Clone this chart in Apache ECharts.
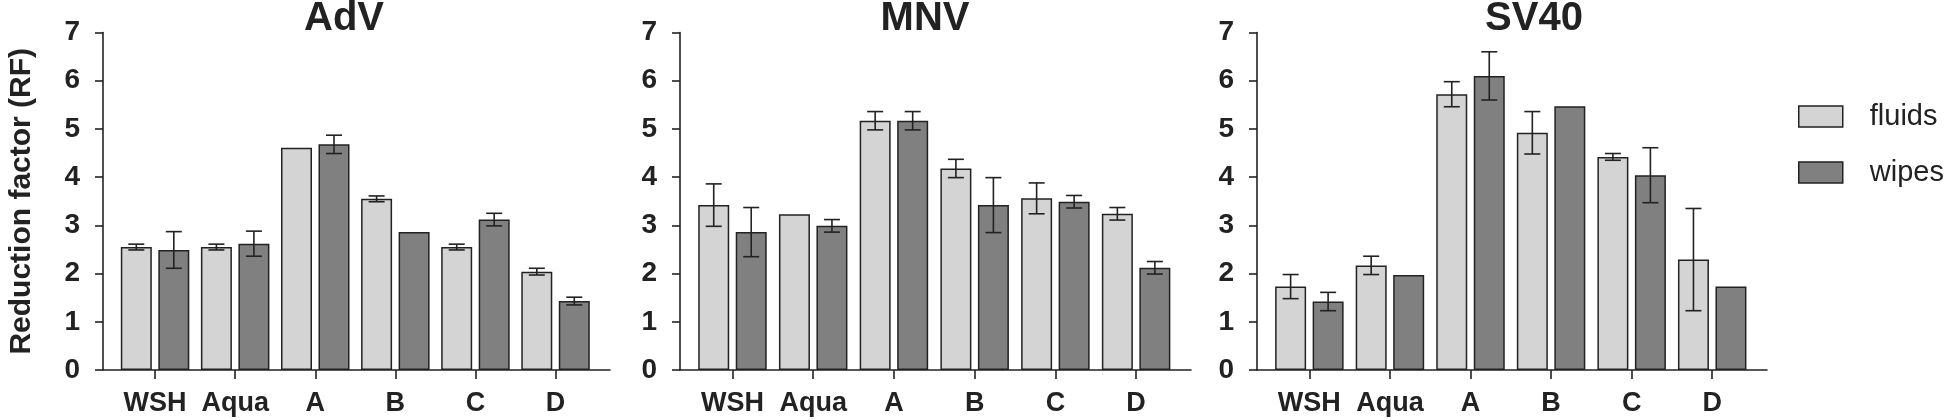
<!DOCTYPE html>
<html>
<head>
<meta charset="utf-8">
<script src="https://cdn.jsdelivr.net/npm/echarts@6/dist/echarts.min.js"></script>
<style>
html,body{margin:0;padding:0;background:#fff;}
#chart{width:1946px;height:420px;}
</style>
</head>
<body>
<div id="chart"></div>
<script>
// ---------- DATA ----------
const categories = ['WSH', 'Aqua', 'A', 'B', 'C', 'D'];
const panelTitles = ['AdV', 'MNV', 'SV40'];
const yTicks = [0, 1, 2, 3, 4, 5, 6, 7];

const advFluids    = [2.55, 2.55, 4.61, 3.55, 2.55, 2.04];
const advFluidsErr = [0.06, 0.06, 0,    0.06, 0.06, 0.07];
const advWipes     = [2.49, 2.62, 4.68, 2.86, 3.12, 1.43];
const advWipesErr  = [0.38, 0.26, 0.19, 0,    0.13, 0.08];

const mnvFluids    = [3.42, 3.23, 5.17, 4.18, 3.56, 3.24];
const mnvFluidsErr = [0.44, 0,    0.19, 0.19, 0.32, 0.13];
const mnvWipes     = [2.86, 2.99, 5.17, 3.42, 3.49, 2.12];
const mnvWipesErr  = [0.51, 0.13, 0.19, 0.57, 0.13, 0.13];

const svFluids     = [1.73, 2.17, 5.72, 4.92, 4.42, 2.29];
const svFluidsErr  = [0.25, 0.19, 0.26, 0.44, 0.07, 1.06];
const svWipes      = [1.42, 1.97, 6.10, 5.47, 4.04, 1.73];
const svWipesErr   = [0.19, 0,    0.50, 0,    0.57, 0];

// ---------- STYLE / LAYOUT ----------
const FONT = "'Liberation Sans', Arial, Helvetica, sans-serif";
const INK = '#222';
const FLUIDS_COLOR = '#d4d4d4';
const WIPES_COLOR = '#808080';
const BAR_W = 31;
const BAR_GAP_PX = 6.5;
const HALF_STEP = (BAR_W + BAR_GAP_PX) / 2;
const CAP = 8;

const panels = [
  {fluids: advFluids, fluidsErr: advFluidsErr, wipes: advWipes, wipesErr: advWipesErr,
   left: 103, width: 507, titleX: 339},
  {fluids: mnvFluids, fluidsErr: mnvFluidsErr, wipes: mnvWipes, wipesErr: mnvWipesErr,
   left: 680, width: 511, titleX: 920},
  {fluids: svFluids, fluidsErr: svFluidsErr, wipes: svWipes, wipesErr: svWipesErr,
   left: 1257, width: 510, titleX: 1529}
];

const grids = [], xAxes = [], yAxes = [], series = [], titles = [];

function errSeries(idx, vals, errs, offset) {
  return {
    type: 'custom',
    name: 'err',
    xAxisIndex: idx, yAxisIndex: idx,
    z: 5,
    silent: true,
    data: vals.map((v, i) => [i, v, errs[i]]),
    renderItem: function (params, api) {
      const e = api.value(2);
      if (!e) return null;
      const i = api.value(0), v = api.value(1);
      const top = api.coord([i, v + e]);
      const bot = api.coord([i, v - e]);
      const x = top[0] + offset;
      const st = {stroke: INK, lineWidth: 1.6};
      return {
        type: 'group',
        children: [
          {type: 'line', shape: {x1: x, y1: top[1], x2: x, y2: bot[1]}, style: st},
          {type: 'line', shape: {x1: x - CAP, y1: top[1], x2: x + CAP, y2: top[1]}, style: st},
          {type: 'line', shape: {x1: x - CAP, y1: bot[1], x2: x + CAP, y2: bot[1]}, style: st}
        ]
      };
    }
  };
}

panels.forEach((p, idx) => {
  grids.push({left: p.left, width: p.width, top: 32.5, height: 337.5,
              containLabel: false, outerBoundsMode: 'none'});
  titles.push({
    text: panelTitles[idx], left: p.titleX, top: -6, textAlign: 'center',
    textStyle: {fontFamily: FONT, fontWeight: 'bold', fontSize: 40, color: INK}
  });
  xAxes.push({
    type: 'value', gridIndex: idx, min: -0.65, max: 5.68,
    splitLine: {show: false},
    axisLine: {show: true, onZero: false, lineStyle: {color: INK, width: 1.6}},
    axisTick: {show: true, length: 9, customValues: [0, 1, 2, 3, 4, 5], lineStyle: {color: INK, width: 1.6}},
    axisLabel: {
      show: true, customValues: [0, 1, 2, 3, 4, 5], margin: 20,
      formatter: v => categories[Math.round(v)] || '',
      fontFamily: FONT, fontWeight: 'bold', fontSize: 27, color: INK
    }
  });
  yAxes.push({
    type: 'value', gridIndex: idx, min: 0, max: 7, interval: 1,
    splitLine: {show: false},
    axisLine: {show: true, onZero: false, lineStyle: {color: INK, width: 1.6}},
    axisTick: {show: true, length: 8, lineStyle: {color: INK, width: 1.6}},
    axisLabel: {margin: 23, fontFamily: FONT, fontWeight: 'bold', fontSize: 28, color: INK,
      formatter: v => String(yTicks[v] !== undefined ? yTicks[v] : v)},
    name: idx === 0 ? 'Reduction factor (RF)' : '',
    nameLocation: 'middle', nameGap: 66,
    nameTextStyle: {fontFamily: FONT, fontWeight: 'bold', fontSize: 30, color: INK}
  });
  series.push({
    type: 'bar', name: 'fluids', xAxisIndex: idx, yAxisIndex: idx,
    barWidth: BAR_W, barGap: (BAR_GAP_PX / BAR_W * 100) + '%',
    itemStyle: {color: FLUIDS_COLOR, borderColor: INK, borderWidth: 1.5},
    data: p.fluids.map((v, i) => [i, v])
  });
  series.push({
    type: 'bar', name: 'wipes', xAxisIndex: idx, yAxisIndex: idx,
    barWidth: BAR_W, barGap: (BAR_GAP_PX / BAR_W * 100) + '%',
    itemStyle: {color: WIPES_COLOR, borderColor: INK, borderWidth: 1.5},
    data: p.wipes.map((v, i) => [i, v])
  });
  series.push(errSeries(idx, p.fluids, p.fluidsErr, -HALF_STEP));
  series.push(errSeries(idx, p.wipes, p.wipesErr, HALF_STEP));
});

const chart = echarts.init(document.getElementById('chart'), null, {renderer: 'canvas'});
chart.setOption({
  animation: false,
  backgroundColor: '#fff',
  title: titles,
  grid: grids,
  xAxis: xAxes,
  yAxis: yAxes,
  legend: {
    data: ['fluids', 'wipes'],
    orient: 'vertical',
    left: 1793, top: 97,
    itemWidth: 44, itemHeight: 21, itemGap: 27,
    icon: 'rect',
    selectedMode: false,
    itemStyle: {borderColor: INK, borderWidth: 1.5},
    textStyle: {fontFamily: FONT, fontSize: 29, color: INK, padding: [0, 0, 0, 22]}
  },
  series: series
});
</script>
</body>
</html>
